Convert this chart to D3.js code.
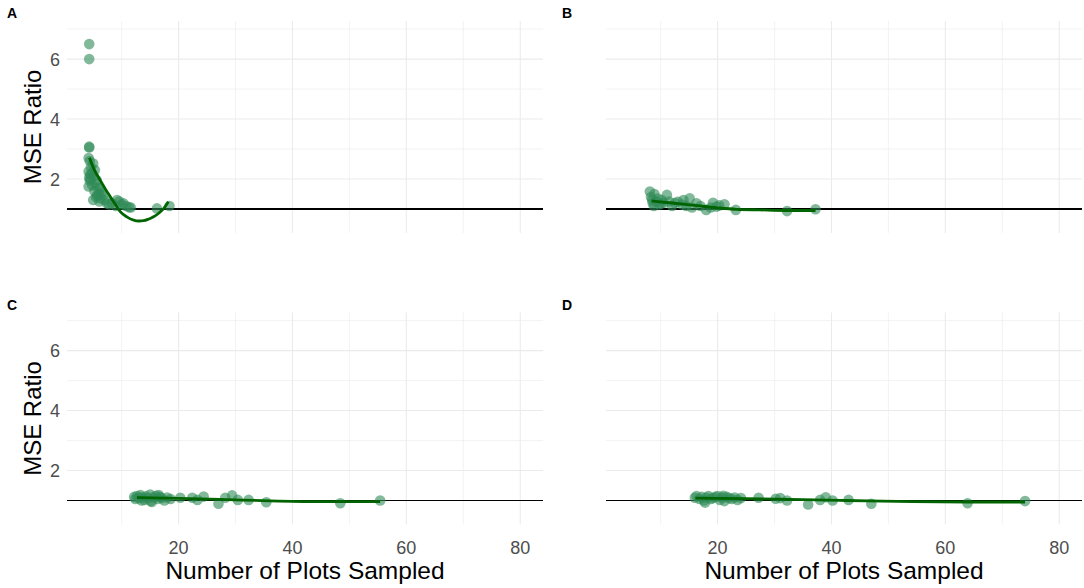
<!DOCTYPE html>
<html>
<head>
<meta charset="utf-8">
<script src="https://cdn.jsdelivr.net/npm/d3@7"></script>
<style>
  body { margin: 0; background: #fff; }
  text { font-family: "Liberation Sans", Arial, sans-serif; }
</style>
</head>
<body>
<svg id="chart" width="1084" height="588"></svg>
<script>
// values
var aX = [4.3,4.3,4.3,4.3,4.2,4.4,4.2,4.5,4.3,4.4,4.6,4.2,4.8,5.0,5.1,5.3,5.4,5.6,5.2,5.8,6.0,6.2,6.5,6.8,5.0,5.5,6.1,7.0,7.4,7.8,8.3,9.0,9.2,9.6,10.0,10.3,10.8,11.3,11.6,16.2,18.4,4.5,4.8,5.7,6.3];
var aY = [6.5,6.0,3.08,3.05,2.7,2.6,2.25,2.15,2.05,1.95,2.4,1.75,2.2,2.52,2.1,2.3,1.85,1.97,1.6,1.7,1.5,1.69,1.55,1.47,1.3,1.4,1.25,1.3,1.19,1.15,1.2,1.1,1.3,1.25,1.15,1.19,1.1,1.06,1.05,1.02,1.1,2.0,1.8,1.45,1.35];
var bX = [8.1,8.3,8.5,8.6,8.9,9.2,9.5,9.8,10.2,10.5,11.1,11.5,12.0,12.5,13.0,13.8,14.5,15.1,15.5,16.3,17.0,18.0,18.8,19.2,19.8,20.3,21.2,23.2,32.2,37.2,8.8,10.0,14.0];
var bY = [1.58,1.4,1.3,1.2,1.5,1.25,1.35,1.15,1.3,1.2,1.47,1.25,1.1,1.2,1.24,1.15,1.1,1.36,1.05,1.19,1.1,0.97,1.05,1.21,1.08,1.12,1.16,0.97,0.93,0.99,1.1,1.18,1.3];
var cX = [12.2,12.4,12.7,13.0,13.3,13.6,14.0,14.3,14.6,15.0,15.3,15.6,16.0,16.3,16.7,17.0,17.5,18.0,18.6,20.3,22.4,23.3,24.4,27.0,28.2,29.4,30.4,32.3,35.4,48.4,55.4,13.5,15.1,16.5];
var cY = [1.12,1.05,1.15,1.08,1.18,1.1,1.02,1.14,1.08,1.2,0.95,1.1,1.16,1.05,1.12,1.08,1.0,1.1,1.05,1.09,1.09,1.02,1.13,0.89,1.09,1.17,1.02,1.02,0.94,0.91,1.0,1.0,0.98,1.18];
var dX = [16.0,16.3,16.8,17.2,17.6,18.0,18.4,18.8,19.2,19.6,20.0,20.4,20.8,21.2,21.6,22.0,22.5,23.0,23.5,24.1,27.2,30.2,31.0,32.2,35.9,38.0,39.0,40.2,43.0,47.0,63.9,74.0,17.8,21.0];
var dY = [1.09,1.15,1.05,1.12,1.0,1.1,1.15,1.05,1.08,1.12,1.15,1.02,1.1,0.98,1.12,1.08,1.05,1.1,1.02,1.08,1.09,1.06,1.08,1.0,0.87,1.02,1.11,1.0,1.02,0.89,0.91,0.98,0.93,1.16];

// smoothed trend lines
var aSmoothX = [4.35,5.2,6.2,7.1,8.0,8.9,9.75,10.9,12.1,13.0,13.85,14.7,15.6,16.5,17.4,18.2];
var aSmoothY = [2.71,2.3,1.97,1.68,1.41,1.15,0.91,0.74,0.63,0.6,0.61,0.66,0.74,0.86,1.02,1.24];
var bSmoothX = [8.4,12,16,20,23.3,27.4,32.1,37.2];
var bSmoothY = [1.27,1.2,1.12,1.04,0.99,0.97,0.95,0.95];
var cSmoothX = [12.7,20,28.5,36,44.9,55.4];
var cSmoothY = [1.10,1.07,1.03,0.99,0.96,0.96];
var dSmoothX = [16.1,25,35,42.6,54.3,64,74];
var dSmoothY = [1.08,1.06,1.03,1.0,0.96,0.95,0.95];

var xTicks = [20, 40, 60, 80];
var xMinor = [10, 30, 50, 70];
var yTicks = [2, 4, 6];
var yMinor = [1, 3, 5, 7];
var panelLabels = ["A", "B", "C", "D"];

var svg = d3.select("#chart");
var pw = 476, ph = 212;

var x = d3.scaleLinear().domain([0.4, 84]).range([0, pw]);
var y = d3.scaleLinear().domain([0.2, 7.27]).range([ph, 0]);

var panels = [
  { label: panelLabels[0], left: 67, top: 21, xs: aX, ys: aY, sx: aSmoothX, sy: aSmoothY, yAxis: true, xAxis: false },
  { label: panelLabels[1], left: 606, top: 21, xs: bX, ys: bY, sx: bSmoothX, sy: bSmoothY, yAxis: false, xAxis: false },
  { label: panelLabels[2], left: 67, top: 312.5, xs: cX, ys: cY, sx: cSmoothX, sy: cSmoothY, yAxis: true, xAxis: true },
  { label: panelLabels[3], left: 606, top: 312.5, xs: dX, ys: dY, sx: dSmoothX, sy: dSmoothY, yAxis: false, xAxis: true }
];

panels.forEach(p => drawPanel(p));

function drawPanel(p) {
  let g = svg.append("g").attr("transform", `translate(${p.left},${p.top})`);

  // grid
  g.selectAll(".vminor").data(xMinor).enter().append("line")
    .attr("x1", d => x(d)).attr("x2", d => x(d)).attr("y1", 0).attr("y2", ph)
    .attr("stroke", "#ebebeb").attr("stroke-width", 0.6);
  g.selectAll(".hminor").data(yMinor).enter().append("line")
    .attr("y1", d => y(d)).attr("y2", d => y(d)).attr("x1", 0).attr("x2", pw)
    .attr("stroke", "#ebebeb").attr("stroke-width", 0.6);
  g.selectAll(".vmajor").data(xTicks).enter().append("line")
    .attr("x1", d => x(d)).attr("x2", d => x(d)).attr("y1", 0).attr("y2", ph)
    .attr("stroke", "#ebebeb").attr("stroke-width", 1.1);
  g.selectAll(".hmajor").data(yTicks).enter().append("line")
    .attr("y1", d => y(d)).attr("y2", d => y(d)).attr("x1", 0).attr("x2", pw)
    .attr("stroke", "#ebebeb").attr("stroke-width", 1.1);

  // reference line at ratio 1
  g.append("line")
    .attr("x1", 0).attr("x2", pw).attr("y1", y(1)).attr("y2", y(1))
    .attr("stroke", "#000").attr("stroke-width", 1.2)
    .attr("shape-rendering", "crispEdges");

  // points
  let pts = p.xs.map((v, i) => ({ x: v, y: p.ys[i] }));
  g.append("g").selectAll("circle").data(pts).enter().append("circle")
    .attr("cx", d => x(d.x)).attr("cy", d => y(d.y)).attr("r", 5.3)
    .attr("fill", "#2e8b57").attr("fill-opacity", 0.6);

  // smooth
  let line = d3.line().x(d => x(d[0])).y(d => y(d[1])).curve(d3.curveMonotoneX);
  g.append("path")
    .datum(p.sx.map((v, i) => [v, p.sy[i]]))
    .attr("fill", "none").attr("stroke", "#006400").attr("stroke-width", 2.8)
    .attr("d", line);

  if (p.yAxis) {
    g.selectAll(".ytick").data(yTicks).enter().append("text")
      .attr("x", -7).attr("y", d => y(d)).attr("dy", "0.36em")
      .attr("text-anchor", "end").attr("fill", "#4d4d4d").style("font-size", "18px")
      .text(d => d);
    g.append("text")
      .attr("transform", `translate(${41 - p.left},${ph / 2}) rotate(-90)`)
      .attr("text-anchor", "middle").attr("fill", "#000").style("font-size", "24px")
      .text("MSE Ratio");
  }
  if (p.xAxis) {
    g.selectAll(".xtick").data(xTicks).enter().append("text")
      .attr("x", d => x(d)).attr("y", ph + 29)
      .attr("text-anchor", "middle").attr("fill", "#4d4d4d").style("font-size", "18px")
      .text(d => d);
    g.append("text")
      .attr("x", pw / 2).attr("y", ph + 54)
      .attr("text-anchor", "middle").attr("fill", "#000").style("font-size", "24.5px")
      .text("Number of Plots Sampled");
  }

  svg.append("text")
    .attr("x", p.left === 67 ? 7 : 562).attr("y", p.top - 3)
    .style("font-size", "14px").style("font-weight", "bold")
    .text(p.label);
}
</script>
</body>
</html>
